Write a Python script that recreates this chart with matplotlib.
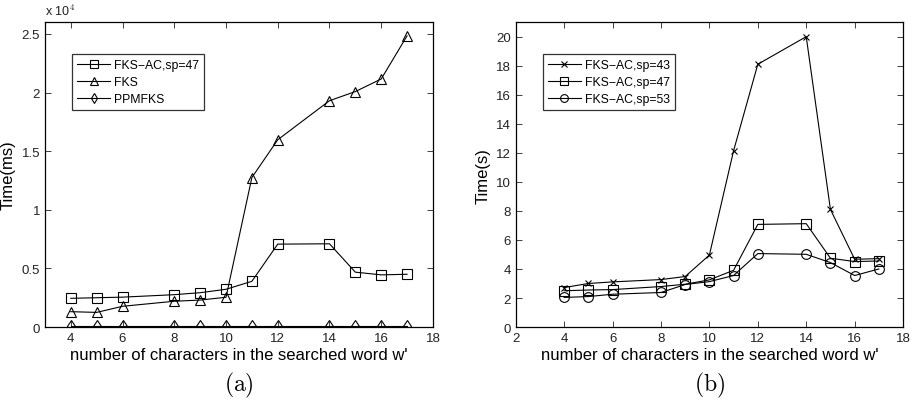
import matplotlib
matplotlib.use('Agg')
from matplotlib import pyplot as plt
from matplotlib.ticker import FuncFormatter
import numpy as np

plt.rcParams['font.family'] = ['Liberation Sans', 'DejaVu Sans']
plt.rcParams['mathtext.fontset'] = 'cm'

# (a) time in ms
x_a = [4, 5, 6, 8, 9, 10, 11, 12, 14, 15, 16, 17]
fksac47_ms = [2450, 2500, 2550, 2760, 2930, 3220, 3900, 7070, 7100, 4680, 4450, 4500]
fks_ms = [1310, 1250, 1770, 2200, 2300, 2540, 12750, 15970, 19300, 20080, 21150, 24830]
ppmfks_ms = [100, 100, 100, 100, 100, 100, 100, 100, 100, 100, 100, 100]

# (b) time in s
x_b = [4, 5, 6, 8, 9, 10, 11, 12, 14, 15, 16, 17]
sp43_s = [2.72, 3.0, 3.11, 3.27, 3.48, 4.96, 12.15, 18.1, 20.0, 8.1, 4.67, 4.71]
sp47_s = [2.5, 2.55, 2.58, 2.79, 2.95, 3.25, 3.91, 7.07, 7.12, 4.74, 4.51, 4.55]
sp53_s = [2.04, 2.1, 2.26, 2.38, 2.93, 3.13, 3.55, 5.06, 5.01, 4.44, 3.55, 4.0]

xlabel = "number of characters in the searched word w'"

fig = plt.figure(figsize=(9.12, 4.06), dpi=100)
ax1 = fig.add_axes([0.0493, 0.192, 0.4254, 0.751])
ax2 = fig.add_axes([0.5655, 0.192, 0.4247, 0.751])

style = dict(color='black', linewidth=0.8, markersize=6.5,
             markerfacecolor='none', markeredgecolor='black', markeredgewidth=0.8)

ax1.plot(x_a, fksac47_ms, marker='s', label='FKS\u2212AC,sp=47', **style)
ax1.plot(x_a, fks_ms, marker='^', label='FKS', **style)
ax1.plot(x_a, ppmfks_ms, marker='d', label='PPMFKS', **style)
ax1.set_xlim(3, 18)
ax1.set_ylim(0, 26000)
ax1.set_xticks(np.arange(4, 19, 2))
ax1.set_yticks(np.arange(0, 25001, 5000))
ax1.yaxis.set_major_formatter(FuncFormatter(lambda v, _: f'{v / 1e4:g}'))
ax1.set_ylabel('Time(ms)', fontsize=12)
ax1.text(0.0, 1.015, r'x 10$^{4}$', transform=ax1.transAxes, fontsize=9,
         ha='left', va='bottom', color='#222222')
ax1.text(0.5, -0.187, r'$\mathrm{(a)}$', transform=ax1.transAxes, fontsize=17,
         ha='center', va='center')

ax2.plot(x_b, sp43_s, marker='x', label='FKS\u2212AC,sp=43', **dict(style, markersize=5))
ax2.plot(x_b, sp47_s, marker='s', label='FKS\u2212AC,sp=47', **style)
ax2.plot(x_b, sp53_s, marker='o', label='FKS\u2212AC,sp=53', **dict(style, markersize=7))
ax2.set_xlim(2, 18)
ax2.set_ylim(0, 21)
ax2.set_xticks(np.arange(2, 19, 2))
ax2.set_yticks(np.arange(0, 21, 2))
ax2.set_ylabel('Time(s)', fontsize=12)
ax2.text(0.5, -0.187, r'$\mathrm{(b)}$', transform=ax2.transAxes, fontsize=17,
         ha='center', va='center')

for ax in (ax1, ax2):
    ax.set_xlabel(xlabel, fontsize=12, labelpad=2)
    ax.tick_params(direction='in', top=True, right=True, labelsize=9.5,
                   length=4, width=0.6, colors='#222222', labelcolor='#222222')
    for s in ax.spines.values():
        s.set_linewidth(0.9)
    leg = ax.legend(loc='upper left', bbox_to_anchor=(0.07, 0.895), fontsize=8.8,
                    frameon=True, fancybox=False, edgecolor='black',
                    handlelength=2.7, handletextpad=0.35, borderpad=0.4,
                    labelspacing=0.4, borderaxespad=0, markerscale=0.8)
    leg.get_frame().set_linewidth(0.9)

fig.savefig('out.png', dpi=100)
